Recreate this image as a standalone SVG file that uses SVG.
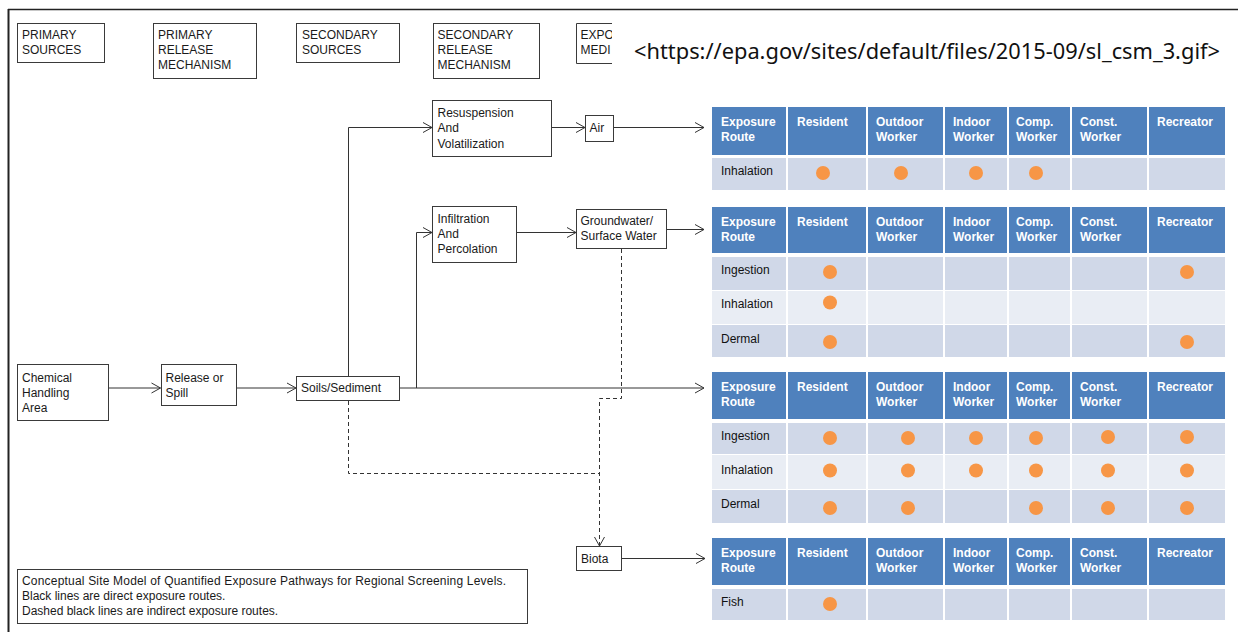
<svg xmlns="http://www.w3.org/2000/svg" width="1238" height="632" viewBox="0 0 1238 632">
<defs>
<style>
.box{fill:#fff;stroke:#3a3a3a;stroke-width:1}
.t{font-family:"Liberation Sans",Arial,sans-serif;font-size:12px;fill:#1a1a1a}
.ln{fill:none;stroke:#333;stroke-width:1}
.dash{fill:none;stroke:#333;stroke-width:1;stroke-dasharray:4 3}
.hd{fill:#4F81BD}
.b1{fill:#D0D8E8}
.b2{fill:#E9EDF4}
.ht{font-family:"Liberation Sans",Arial,sans-serif;font-size:12px;font-weight:bold;fill:#fff}
.bt{font-family:"Liberation Sans",Arial,sans-serif;font-size:12px;fill:#111}
.dot{fill:#F79646}
.sep{stroke:#fff;stroke-width:2}
.url{font-family:"Noto Sans","Open Sans",sans-serif;font-size:22px;fill:#111}
</style>
<marker id="arr" markerUnits="userSpaceOnUse" markerWidth="12" markerHeight="12" refX="10" refY="6" orient="auto">
<path d="M1,1 L10,6 L1,11" fill="none" stroke="#333" stroke-width="1"/>
</marker>
<clipPath id="clipL"><rect x="0" y="0" width="612" height="632"/></clipPath>
</defs>
<rect x="0" y="0" width="1238" height="632" fill="#fff"/>
<g id="frame">
<line x1="8" y1="9.5" x2="1238" y2="9.5" stroke="#222" stroke-width="1.5"/>
<line x1="8.5" y1="9" x2="8.5" y2="632" stroke="#222" stroke-width="2"/>
</g>
<text class="url" x="634" y="59" textLength="586" lengthAdjust="spacingAndGlyphs">&lt;https://epa.gov/sites/default/files/2015-09/sl_csm_3.gif&gt;</text>

<g id="hdr-primary-sources"><rect class="box" x="17.5" y="23.5" width="87" height="39"/><text class="t" x="22" y="38.5">PRIMARY</text><text class="t" x="22" y="53.5">SOURCES</text></g>
<g id="hdr-primary-release"><rect class="box" x="153.5" y="23.5" width="103" height="55"/><text class="t" x="158" y="38.5">PRIMARY</text><text class="t" x="158" y="53.5">RELEASE</text><text class="t" x="158" y="68.5">MECHANISM</text></g>
<g id="hdr-secondary-sources"><rect class="box" x="296.5" y="23.5" width="103" height="39"/><text class="t" x="302" y="38.5">SECONDARY</text><text class="t" x="302" y="53.5">SOURCES</text></g>
<g id="hdr-secondary-release"><rect class="box" x="433.5" y="23.5" width="106" height="55"/><text class="t" x="437.5" y="38.5">SECONDARY</text><text class="t" x="437.5" y="53.5">RELEASE</text><text class="t" x="437.5" y="68.5">MECHANISM</text></g>
<g id="hdr-exposure-media" clip-path="url(#clipL)"><path class="box" d="M614,23.5 H576.5 V63.5 H614"/><text class="t" x="580.5" y="38.5">EXPO</text><text class="t" x="580.5" y="53.5">MEDI</text></g>

<g id="connectors">
<path class="ln" d="M108.5,388 H160.5" marker-end="url(#arr)"/>
<path class="ln" d="M236.5,388 H296" marker-end="url(#arr)"/>
<path class="ln" d="M348.5,376 V127.5 H432" marker-end="url(#arr)"/>
<path class="ln" d="M400,388 H704" marker-end="url(#arr)"/>
<path class="ln" d="M416.5,388 V232.5 H432" marker-end="url(#arr)"/>
<path class="ln" d="M516.5,232.5 H576" marker-end="url(#arr)"/>
<path class="ln" d="M666.5,229.5 H704" marker-end="url(#arr)"/>
<path class="ln" d="M551.5,127.5 H585" marker-end="url(#arr)"/>
<path class="ln" d="M613.5,127.5 H704" marker-end="url(#arr)"/>
<path class="ln" d="M621,558.5 H705" marker-end="url(#arr)"/>
<path class="dash" d="M621.5,249 V398.5 H599.5 V546" marker-end="url(#arr)"/>
<path class="dash" d="M348.5,401 V473.5 H599.5"/>
</g>

<g id="node-resuspension"><rect class="box" x="432.5" y="100.5" width="119" height="56"/><text class="t" x="437.5" y="117">Resuspension</text><text class="t" x="437.5" y="132">And</text><text class="t" x="437.5" y="147.5">Volatilization</text></g>
<g id="node-air"><rect class="box" x="585.5" y="115.5" width="28" height="26"/><text class="t" x="589.5" y="132">Air</text></g>
<g id="node-infiltration"><rect class="box" x="432.5" y="206.5" width="84" height="56"/><text class="t" x="437.5" y="222.5">Infiltration</text><text class="t" x="437.5" y="237.5">And</text><text class="t" x="437.5" y="253">Percolation</text></g>
<g id="node-groundwater"><rect class="box" x="576.5" y="209.5" width="90" height="39"/><text class="t" x="580.5" y="225">Groundwater/</text><text class="t" x="580.5" y="240">Surface Water</text></g>
<g id="node-chemical"><rect class="box" x="17.5" y="364.5" width="91" height="56"/><text class="t" x="22" y="381.5">Chemical</text><text class="t" x="22" y="396.5">Handling</text><text class="t" x="22" y="411.5">Area</text></g>
<g id="node-release"><rect class="box" x="161.5" y="364.5" width="75" height="41"/><text class="t" x="165.5" y="381.5">Release or</text><text class="t" x="165.5" y="396.5">Spill</text></g>
<g id="node-soils"><rect class="box" x="296.5" y="376.5" width="103" height="24"/><text class="t" x="301" y="392">Soils/Sediment</text></g>
<g id="node-biota"><rect class="box" x="576.5" y="546.5" width="45" height="24"/><text class="t" x="581" y="562.5">Biota</text></g>
<g id="legend"><rect class="box" x="17.5" y="569.5" width="510" height="54"/><text class="t" x="22" y="584.5" textLength="484" lengthAdjust="spacing">Conceptual Site Model of Quantified Exposure Pathways for Regional Screening Levels.</text><text class="t" x="22" y="599.5">Black lines are direct exposure routes.</text><text class="t" x="22" y="614.5">Dashed black lines are indirect exposure routes.</text></g>

<g id="table-air">
<rect class="hd" x="712" y="107" width="513" height="48"/>
<rect class="b1" x="712" y="158" width="513" height="32"/>
<g class="sep"><line x1="787" y1="107" x2="787" y2="190"/><line x1="867" y1="107" x2="867" y2="190"/><line x1="944" y1="107" x2="944" y2="190"/><line x1="1008" y1="107" x2="1008" y2="190"/><line x1="1071" y1="107" x2="1071" y2="190"/><line x1="1148" y1="107" x2="1148" y2="190"/></g>
<text class="ht" x="721" y="126">Exposure</text><text class="ht" x="721" y="141">Route</text>
<text class="ht" x="797" y="126">Resident</text>
<text class="ht" x="876" y="126">Outdoor</text><text class="ht" x="876" y="141">Worker</text>
<text class="ht" x="953" y="126">Indoor</text><text class="ht" x="953" y="141">Worker</text>
<text class="ht" x="1016" y="126">Comp.</text><text class="ht" x="1016" y="141">Worker</text>
<text class="ht" x="1080" y="126">Const.</text><text class="ht" x="1080" y="141">Worker</text>
<text class="ht" x="1157" y="126">Recreator</text>
<text class="bt" x="721" y="175">Inhalation</text>
<circle class="dot" cx="823" cy="173" r="7"/><circle class="dot" cx="901" cy="173" r="7"/><circle class="dot" cx="976" cy="173" r="7"/><circle class="dot" cx="1036" cy="173" r="7"/>
</g>

<g id="table-water">
<rect class="hd" x="712" y="207" width="513" height="46"/>
<rect class="b1" x="712" y="257" width="513" height="33"/>
<rect class="b2" x="712" y="291" width="513" height="33"/>
<rect class="b1" x="712" y="325" width="513" height="32"/>
<g class="sep"><line x1="787" y1="207" x2="787" y2="357"/><line x1="867" y1="207" x2="867" y2="357"/><line x1="944" y1="207" x2="944" y2="357"/><line x1="1008" y1="207" x2="1008" y2="357"/><line x1="1071" y1="207" x2="1071" y2="357"/><line x1="1148" y1="207" x2="1148" y2="357"/></g>
<text class="ht" x="721" y="226">Exposure</text><text class="ht" x="721" y="241">Route</text>
<text class="ht" x="797" y="226">Resident</text>
<text class="ht" x="876" y="226">Outdoor</text><text class="ht" x="876" y="241">Worker</text>
<text class="ht" x="953" y="226">Indoor</text><text class="ht" x="953" y="241">Worker</text>
<text class="ht" x="1016" y="226">Comp.</text><text class="ht" x="1016" y="241">Worker</text>
<text class="ht" x="1080" y="226">Const.</text><text class="ht" x="1080" y="241">Worker</text>
<text class="ht" x="1157" y="226">Recreator</text>
<text class="bt" x="721" y="274">Ingestion</text>
<text class="bt" x="721" y="308">Inhalation</text>
<text class="bt" x="721" y="342.5">Dermal</text>
<circle class="dot" cx="830" cy="272" r="7"/><circle class="dot" cx="1187" cy="272" r="7"/>
<circle class="dot" cx="830" cy="302.5" r="7"/>
<circle class="dot" cx="830" cy="342" r="7"/><circle class="dot" cx="1187" cy="342" r="7"/>
</g>

<g id="table-soil">
<rect class="hd" x="712" y="372" width="513" height="47"/>
<rect class="b1" x="712" y="423" width="513" height="31"/>
<rect class="b2" x="712" y="455" width="513" height="34"/>
<rect class="b1" x="712" y="490" width="513" height="33"/>
<g class="sep"><line x1="787" y1="372" x2="787" y2="523"/><line x1="867" y1="372" x2="867" y2="523"/><line x1="944" y1="372" x2="944" y2="523"/><line x1="1008" y1="372" x2="1008" y2="523"/><line x1="1071" y1="372" x2="1071" y2="523"/><line x1="1148" y1="372" x2="1148" y2="523"/></g>
<text class="ht" x="721" y="391">Exposure</text><text class="ht" x="721" y="406">Route</text>
<text class="ht" x="797" y="391">Resident</text>
<text class="ht" x="876" y="391">Outdoor</text><text class="ht" x="876" y="406">Worker</text>
<text class="ht" x="953" y="391">Indoor</text><text class="ht" x="953" y="406">Worker</text>
<text class="ht" x="1016" y="391">Comp.</text><text class="ht" x="1016" y="406">Worker</text>
<text class="ht" x="1080" y="391">Const.</text><text class="ht" x="1080" y="406">Worker</text>
<text class="ht" x="1157" y="391">Recreator</text>
<text class="bt" x="721" y="440">Ingestion</text>
<text class="bt" x="721" y="474">Inhalation</text>
<text class="bt" x="721" y="508">Dermal</text>
<circle class="dot" cx="830" cy="438" r="7"/><circle class="dot" cx="908" cy="438" r="7"/><circle class="dot" cx="976" cy="438" r="7"/><circle class="dot" cx="1036" cy="438" r="7"/><circle class="dot" cx="1108" cy="437" r="7"/><circle class="dot" cx="1187" cy="437" r="7"/>
<circle class="dot" cx="830" cy="470.5" r="7"/><circle class="dot" cx="908" cy="470.5" r="7"/><circle class="dot" cx="976" cy="470.5" r="7"/><circle class="dot" cx="1036" cy="470.5" r="7"/><circle class="dot" cx="1108" cy="470.5" r="7"/><circle class="dot" cx="1187" cy="470.5" r="7"/>
<circle class="dot" cx="830" cy="508" r="7"/><circle class="dot" cx="908" cy="508" r="7"/><circle class="dot" cx="1036" cy="508" r="7"/><circle class="dot" cx="1108" cy="508" r="7"/><circle class="dot" cx="1187" cy="508" r="7"/>
</g>

<g id="table-biota">
<rect class="hd" x="712" y="538" width="513" height="47"/>
<rect class="b1" x="712" y="589" width="513" height="31"/>
<g class="sep"><line x1="787" y1="538" x2="787" y2="620"/><line x1="867" y1="538" x2="867" y2="620"/><line x1="944" y1="538" x2="944" y2="620"/><line x1="1008" y1="538" x2="1008" y2="620"/><line x1="1071" y1="538" x2="1071" y2="620"/><line x1="1148" y1="538" x2="1148" y2="620"/></g>
<text class="ht" x="721" y="557">Exposure</text><text class="ht" x="721" y="572">Route</text>
<text class="ht" x="797" y="557">Resident</text>
<text class="ht" x="876" y="557">Outdoor</text><text class="ht" x="876" y="572">Worker</text>
<text class="ht" x="953" y="557">Indoor</text><text class="ht" x="953" y="572">Worker</text>
<text class="ht" x="1016" y="557">Comp.</text><text class="ht" x="1016" y="572">Worker</text>
<text class="ht" x="1080" y="557">Const.</text><text class="ht" x="1080" y="572">Worker</text>
<text class="ht" x="1157" y="557">Recreator</text>
<text class="bt" x="721" y="606">Fish</text>
<circle class="dot" cx="830" cy="604" r="7"/>
</g>
</svg>
